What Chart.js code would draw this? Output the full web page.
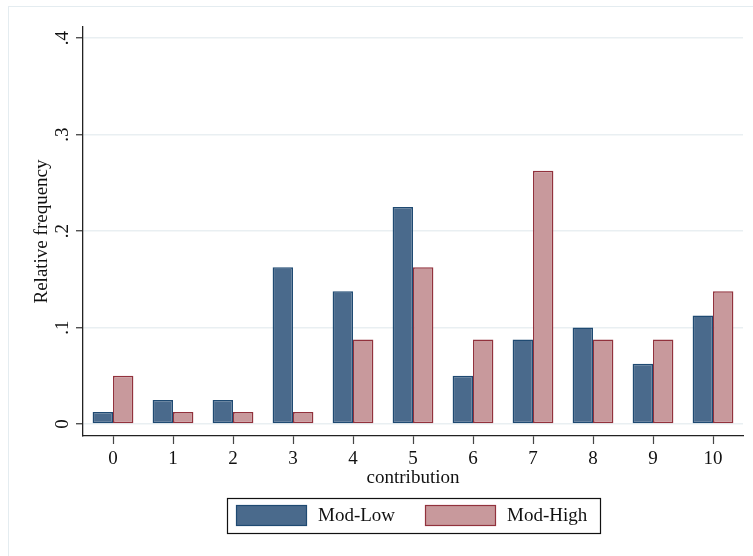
<!DOCTYPE html>
<html>
<head>
<meta charset="utf-8">
<script src="https://cdn.jsdelivr.net/npm/chart.js@4/dist/chart.umd.min.js"></script>
<style>
  html, body { margin: 0; padding: 0; background: #ffffff; }
  #wrap { width: 753px; height: 556px; position: relative; }
</style>
</head>
<body>
<div id="wrap"><canvas id="c" width="753" height="556"></canvas></div>
<script>
// Contribution levels (x categories)
const contributions = ['0', '1', '2', '3', '4', '5', '6', '7', '8', '9', '10'];

// Relative frequency of each contribution, by treatment
const modLow  = [0.0125, 0.025, 0.025, 0.1625, 0.1375, 0.225, 0.05, 0.0875, 0.1, 0.0625, 0.1125];
const modHigh = [0.05, 0.0125, 0.0125, 0.0125, 0.0875, 0.1625, 0.0875, 0.2625, 0.0875, 0.0875, 0.1375];

const seriesNames = ['Mod-Low', 'Mod-High'];

// Y axis ticks and their printed labels
const yTicks = [0, 0.1, 0.2, 0.3, 0.4];
const yTickLabels = ['0', '.1', '.2', '.3', '.4'];

const SERIF = '"Liberation Serif", "DejaVu Serif", serif';
const FONT_SIZE = 19;

// Vertical y tick labels (rotated, reading upward)
const rotatedYTicks = {
  id: 'rotatedYTicks',
  afterDraw(chart) {
    const y = chart.scales.y;
    const ctx = chart.ctx;
    ctx.save();
    ctx.fillStyle = '#111';
    ctx.font = FONT_SIZE + 'px ' + SERIF;
    ctx.textAlign = 'center';
    ctx.textBaseline = 'middle';
    yTicks.forEach((v, i) => {
      const py = y.getPixelForValue(v);
      ctx.save();
      ctx.translate(y.right - 20, py);
      ctx.rotate(-Math.PI / 2);
      ctx.fillText(yTickLabels[i], 0, 0);
      ctx.restore();
    });
    ctx.restore();
  }
};

// Boxed legend below the plot, plus the faint outer frame
const boxedLegend = {
  id: 'boxedLegend',
  beforeDraw(chart) {
    const ctx = chart.ctx;
    ctx.save();
    ctx.fillStyle = '#ffffff';
    ctx.fillRect(0, 0, chart.width, chart.height);
    ctx.strokeStyle = '#e4ecf0';
    ctx.lineWidth = 1;
    ctx.strokeRect(8.5, 6.5, chart.width, chart.height);
    ctx.restore();
  },
  afterDraw(chart) {
    const ctx = chart.ctx;
    const ds = chart.data.datasets;
    const boxX = 227, boxY = 498, boxW = 373, boxH = 35;
    const swW = 71, swH = 21, gap = 11;
    const starts = [236, 425];
    ctx.save();
    ctx.strokeStyle = '#111';
    ctx.lineWidth = 1.2;
    ctx.strokeRect(boxX + 0.5, boxY + 0.5, boxW, boxH);
    ctx.font = FONT_SIZE + 'px ' + SERIF;
    ctx.textBaseline = 'middle';
    ctx.textAlign = 'left';
    ds.forEach((d, i) => {
      const sx = starts[i];
      const sy = boxY + (boxH - swH) / 2;
      ctx.fillStyle = d.backgroundColor;
      ctx.fillRect(sx, sy, swW, swH);
      ctx.strokeStyle = d.borderColor;
      ctx.lineWidth = 1.2;
      ctx.strokeRect(sx + 0.5, sy + 0.5, swW - 1, swH - 1);
      ctx.fillStyle = '#111';
      ctx.fillText(d.label, sx + swW + gap, boxY + boxH / 2 + 1);
    });
    ctx.restore();
  }
};

new Chart(document.getElementById('c'), {
  type: 'bar',
  data: {
    labels: contributions,
    datasets: [
      {
        label: seriesNames[0],
        data: modLow,
        backgroundColor: '#4a6a8c',
        borderColor: '#1f4a72',
        borderWidth: 1.5,
        borderSkipped: false,
        barPercentage: 1.0,
        categoryPercentage: 0.68
      },
      {
        label: seriesNames[1],
        data: modHigh,
        backgroundColor: '#c8999c',
        borderColor: '#92323d',
        borderWidth: 1.5,
        borderSkipped: false,
        barPercentage: 1.0,
        categoryPercentage: 0.68
      }
    ]
  },
  options: {
    responsive: false,
    animation: false,
    layout: { padding: { left: 0, top: 27, right: 10, bottom: 67 } },
    plugins: {
      legend: { display: false },
      tooltip: { enabled: false },
      title: { display: false }
    },
    scales: {
      x: {
        type: 'category',
        offset: true,
        border: { display: true, color: '#222', width: 1.3 },
        grid: {
          offset: false,
          drawOnChartArea: false,
          drawTicks: true,
          tickLength: 8,
          tickColor: '#444',
          tickWidth: 1.2
        },
        ticks: {
          color: '#111',
          font: { family: SERIF, size: FONT_SIZE },
          padding: 4,
          maxRotation: 0,
          autoSkip: false
        },
        title: {
          display: true,
          text: 'contribution',
          color: '#111',
          font: { family: SERIF, size: FONT_SIZE },
          padding: { top: 0, bottom: 0 }
        },
        afterFit(scale) { scale.height = 53; }
      },
      y: {
        min: -0.0124,
        max: 0.4114,
        border: { display: true, color: '#222', width: 1.3 },
        grid: {
          color: '#e9eff2',
          lineWidth: 1.5,
          drawTicks: true,
          tickLength: 7,
          tickColor: '#333',
          tickWidth: 1.2
        },
        ticks: { display: false },
        afterBuildTicks(scale) {
          scale.ticks = yTicks.map(v => ({ value: v }));
        },
        title: {
          display: true,
          text: 'Relative frequency',
          color: '#111',
          font: { family: SERIF, size: FONT_SIZE },
          padding: { top: 31, bottom: 0 }
        },
        afterFit(scale) { scale.width = 83; }
      }
    }
  },
  plugins: [rotatedYTicks, boxedLegend]
});
</script>
</body>
</html>
